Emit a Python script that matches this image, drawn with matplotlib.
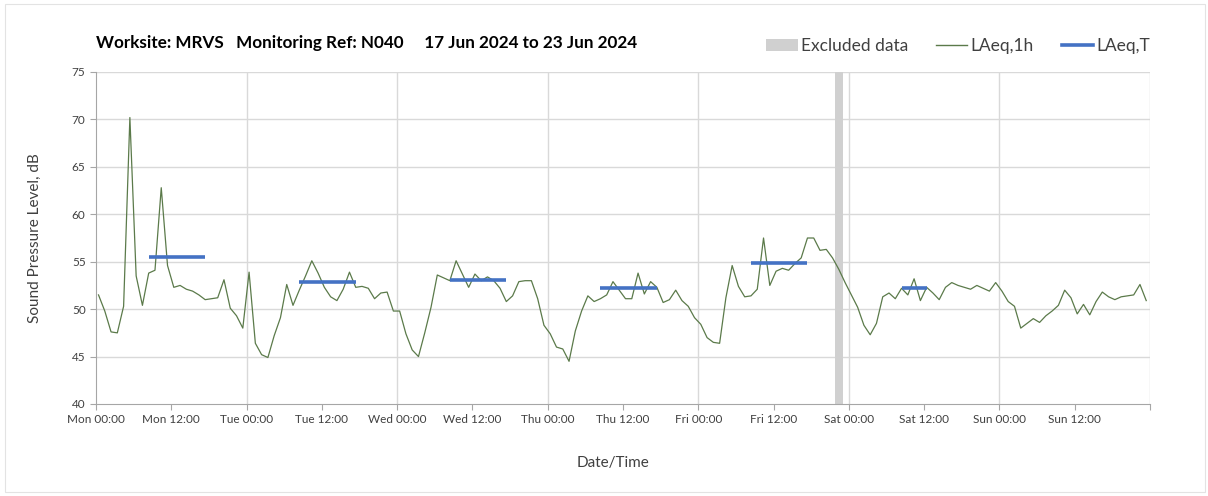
import matplotlib
matplotlib.use("Agg")
import matplotlib.pyplot as plt
from matplotlib.patches import Rectangle, Patch
from matplotlib.lines import Line2D

plt.rcParams['font.family'] = ['Lato', 'DejaVu Sans']

# hourly LAeq,1h values, Mon 00:00 .. Sun 23:00
laeq_1h = [
    51.5, 49.8, 47.6, 47.5, 50.3, 70.2, 53.5, 50.4, 53.8, 54.1, 62.8, 54.6,
    52.3, 52.5, 52.1, 51.9, 51.5, 51.0, 51.1, 51.2, 53.1, 50.1, 49.3, 48.0,
    53.9, 46.4, 45.2, 44.9, 47.2, 49.1, 52.6, 50.4, 52.0, 53.5, 55.1, 53.8,
    52.3, 51.3, 50.9, 52.1, 53.9, 52.3, 52.4, 52.2, 51.1, 51.7, 51.8, 49.8,
    49.8, 47.4, 45.7, 45.0, 47.5, 50.2, 53.6, 53.3, 53.0, 55.1, 53.7, 52.3,
    53.7, 53.0, 53.4, 53.0, 52.2, 50.8, 51.4, 52.9, 53.0, 53.0, 51.1, 48.3,
    47.4, 46.0, 45.8, 44.5, 47.7, 49.8, 51.4, 50.8, 51.1, 51.5, 52.9, 52.0,
    51.1, 51.1, 53.8, 51.6, 52.9, 52.3, 50.7, 51.0, 52.0, 50.9, 50.3, 49.1,
    48.4, 47.0, 46.5, 46.4, 51.2, 54.6, 52.4, 51.3, 51.4, 52.1, 57.5, 52.5,
    54.0, 54.3, 54.1, 54.8, 55.4, 57.5, 57.5, 56.2, 56.3, 55.4, 54.2, 52.8,
    51.5, 50.2, 48.3, 47.3, 48.5, 51.3, 51.7, 51.1, 52.2, 51.5, 53.2, 50.9,
    52.3, 51.7, 51.0, 52.3, 52.8, 52.5, 52.3, 52.1, 52.5, 52.2, 51.9, 52.8,
    51.9, 50.8, 50.3, 48.0, 48.5, 49.0, 48.6, 49.3, 49.8, 50.4, 52.0, 51.2,
    49.5, 50.5, 49.4, 50.8, 51.8, 51.3, 51.0, 51.3, 51.4, 51.5, 52.6, 50.9,
]

# LAeq,T periods (start hour, last hour, level)
period_start = [8, 32, 56, 80, 104, 128]
period_end = [17, 41, 65, 89, 113, 132]
period_level = [55.5, 52.9, 53.1, 52.2, 54.85, 52.2]

excluded_start = 117.8
excluded_end = 119.0

days = ["Mon", "Tue", "Wed", "Thu", "Fri", "Sat", "Sun"]
tick_labels = [f"{d} {h}" for d in days for h in ["00:00", "12:00"]]

green = "#5b7a4a"
blue = "#4472c4"
grey_txt = "#404040"

fig = plt.figure(figsize=(12.08, 4.96), dpi=100)
fig.patches.append(Rectangle((5 / 1208, 4 / 496), 1200 / 1208, 488 / 496,
                             transform=fig.transFigure, fill=False,
                             edgecolor="#e3e3e3", linewidth=0.8))

ax = fig.add_axes([96 / 1208, 1 - 404 / 496, 1054 / 1208, 332 / 496])

ax.axvspan(excluded_start, excluded_end, color="#d0d0d0", lw=0, zorder=1)

xs = [i + 0.4 for i in range(len(laeq_1h))]
ax.plot(xs, laeq_1h, color=green, lw=0.9, zorder=3)

for s, e, v in zip(period_start, period_end, period_level):
    ax.plot([s + 0.4, e + 0.4], [v, v], color=blue, lw=2.6, zorder=4,
            solid_capstyle="butt")

ax.set_xlim(0, 168)
ax.set_ylim(40, 75)
ax.set_yticks(range(40, 76, 5))
ax.set_xticks(range(0, 169, 12))
ax.set_xticklabels(tick_labels + [""])
ax.tick_params(axis="both", labelsize=8.5, colors="#a6a6a6", labelcolor=grey_txt,
               length=4, width=0.8)

for y in range(45, 76, 5):
    ax.axhline(y, color="#d9d9d9", lw=1, zorder=0)
for x in range(24, 169, 24):
    ax.axvline(x, color="#d9d9d9", lw=1, zorder=0)

for side in ["top", "right"]:
    ax.spines[side].set_visible(False)
for side in ["left", "bottom"]:
    ax.spines[side].set_color("#a6a6a6")
    ax.spines[side].set_linewidth(0.8)

fig.text(96 / 1208, 1 - 43 / 496,
         "Worksite: MRVS   Monitoring Ref: N040     17 Jun 2024 to 23 Jun 2024",
         ha="left", va="center", fontsize=12.3, fontweight="bold", color="black")

fig.text(35 / 1208, 1 - 238 / 496, "Sound Pressure Level, dB", rotation=90,
         ha="center", va="center", fontsize=11, color=grey_txt)
fig.text(613 / 1208, 1 - 463 / 496, "Date/Time",
         ha="center", va="center", fontsize=11, color=grey_txt)

handles = [Patch(facecolor="#d0d0d0", edgecolor="none"),
           Line2D([], [], color=green, lw=1),
           Line2D([], [], color=blue, lw=2.6)]
fig.legend(handles, ["Excluded data", "LAeq,1h", "LAeq,T"],
           loc="center right", bbox_to_anchor=(1166 / 1208, 1 - 46 / 496),
           ncol=3, frameon=False, fontsize=12.5, handlelength=1.8,
           handletextpad=0.2, columnspacing=1.6, labelcolor=grey_txt)

fig.savefig("out.png", dpi=100)
